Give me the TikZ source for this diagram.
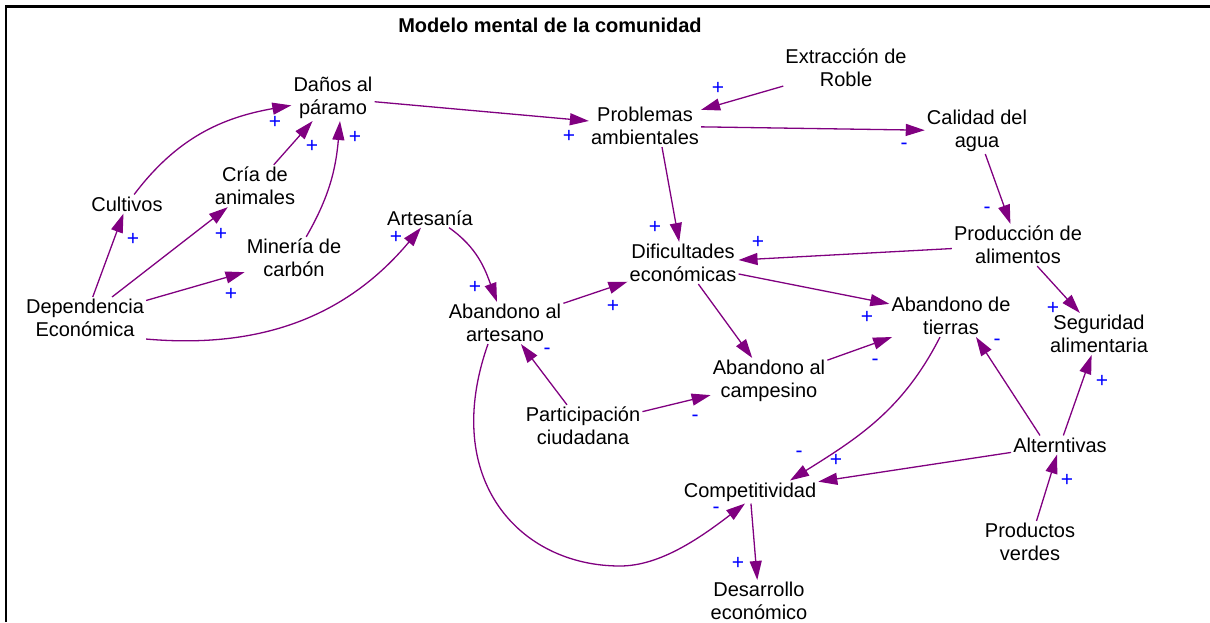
\documentclass[tikz,border=0pt]{standalone}
\usepackage{fontspec}
\setmainfont{Liberation Sans}
\usetikzlibrary{arrows.meta}
\definecolor{linkc}{RGB}{128,0,128}
\definecolor{signc}{RGB}{0,0,255}

\begin{document}
\begin{tikzpicture}[x=1pt,y=1pt,
  vble/.style={align=center,inner sep=2pt,font=\fontsize{20}{23}\selectfont},
  sgn/.style={text=signc,inner sep=0pt,font=\fontsize{21}{23}\selectfont},
  link/.style={-{Triangle[length=19pt,width=12pt]},draw=linkc,line width=1.3pt}]
\useasboundingbox (0,0) rectangle (1210,-622);
\draw[line width=2.5pt] (6,-622) -- (6,-6.7) -- (1210,-6.7);
\node[font=\bfseries\fontsize{20}{23}\selectfont] (titulo) at (550,-25) {Modelo mental de la comunidad};

% variables
\node[vble] (danos) at (333,-98) {Daños al\\páramo};
\node[vble] (prob) at (645,-126) {Problemas\\ambientales};
\node[vble] (extr) at (846,-68) {Extracción de\\Roble};
\node[vble] (cal) at (977,-131) {Calidad del\\agua};
\node[vble] (cult) at (127,-204) {Cultivos};
\node[vble] (cria) at (255,-186) {Cría de\\animales};
\node[vble] (min) at (294,-258) {Minería de\\carbón};
\node[vble] (art) at (430,-218) {Artesanía};
\node[vble] (dep) at (85,-318) {Dependencia\\Económica};
\node[vble] (aba) at (505,-323) {Abandono al\\artesano};
\node[vble] (dif) at (683,-263) {Dificultades\\económicas};
\node[vble] (prod) at (1018,-245) {Producción de\\alimentos};
\node[vble] (abt) at (951,-316) {Abandono de\\tierras};
\node[vble] (seg) at (1099,-334) {Seguridad\\alimentaria};
\node[vble] (abc) at (769,-381) {Abandono al\\campesino};
\node[vble] (par) at (583,-426) {Participación\\ciudadana};
\node[vble] (comp) at (750,-492) {Competitividad};
\node[vble] (des) at (759,-601) {Desarrollo\\económico};
\node[vble] (alt) at (1060,-445) {Alterntivas};
\node[vble] (verd) at (1030,-542) {Productos\\verdes};

% links
\draw[link] (cult) to[out=53,in=190] (danos);
\draw[link] (cria) -- (danos);
\draw[link] (min) to[out=60,in=265] ([xshift=7pt]danos.south);
\draw[link] (dep) -- (cult);
\draw[link] (dep) -- (cria);
\draw[link] (dep) -- (min);
\draw[link] (dep.south east) to[out=-5,in=230] ([xshift=-9pt]art.south);
\draw[link] (danos) -- (prob);
\draw[link] (extr) -- (prob);
\draw[link] (prob) -- (cal);
\draw[link] (cal) -- (prod);
\draw[link] ([xshift=17pt]prob.south) -- (dif);
\draw[link] (prod) -- (dif);
\draw[link] ([xshift=19pt]art.south) to[out=-35,in=110] ([xshift=-8pt]aba.north);
\draw[link] (aba) -- (dif);
\draw[link] (dif) -- (abt);
\draw[link] (dif) -- (abc);
\draw[link] (abc) -- (abt);
\draw[link] (prod) -- (seg);
\draw[link] (par) -- (aba);
\draw[link] (par) -- (abc);
\draw[link] ([xshift=-11pt]abt.south) to[out=243,in=32] ([xshift=40pt]comp.north);
\draw[link] ([xshift=-20pt]alt.north) -- ([xshift=25pt]abt.south);
\draw[link] (alt) -- (seg);
\draw[link] (alt) -- (comp);
\draw[link] (verd) -- (alt);
\draw[link] ([xshift=-17pt]aba.south) .. controls (440,-480) and (520,-566) .. (620,-566)
  .. controls (660,-566) and (700,-538) .. ([xshift=-5pt]comp.south);
\draw[link] (comp) -- (des);

% polarities
\node[sgn] (s1) at (275,-122) {+};
\node[sgn] (s2) at (312,-146) {+};
\node[sgn] (s3) at (355,-137) {+};
\node[sgn] (s4) at (133,-239) {+};
\node[sgn] (s5) at (221,-234) {+};
\node[sgn] (s6) at (231,-294) {+};
\node[sgn] (s7) at (396,-237) {+};
\node[sgn] (s8) at (569,-136) {+};
\node[sgn] (s9) at (718,-88) {+};
\node[sgn] (s10) at (904,-146) {-};
\node[sgn] (s11) at (987,-210) {-};
\node[sgn] (s12) at (655,-227) {+};
\node[sgn] (s13) at (758,-242) {+};
\node[sgn] (s14) at (475,-287) {+};
\node[sgn] (s15) at (613,-306) {+};
\node[sgn] (s16) at (547,-351) {-};
\node[sgn] (s17) at (695,-418) {-};
\node[sgn] (s18) at (867,-317) {+};
\node[sgn] (s19) at (875,-362) {-};
\node[sgn] (s20) at (1053,-308) {+};
\node[sgn] (s21) at (997,-342) {-};
\node[sgn] (s22) at (1102,-381) {+};
\node[sgn] (s23) at (799,-454) {-};
\node[sgn] (s24) at (836,-460) {+};
\node[sgn] (s25) at (1067,-480) {+};
\node[sgn] (s26) at (716,-510) {-};
\node[sgn] (s27) at (738,-563) {+};
\end{tikzpicture}
\end{document}
